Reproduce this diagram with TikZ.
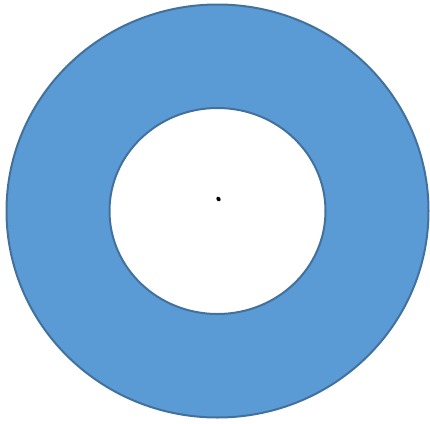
\documentclass[tikz,border=0pt]{standalone}
\usetikzlibrary{positioning,shapes.geometric}
\definecolor{ringFill}{RGB}{91,155,213}
\definecolor{ringEdge}{RGB}{65,113,156}
\begin{document}
\begin{tikzpicture}[
  x=1pt, y=-1pt,
  ring/.style={fill=ringFill, draw=ringEdge, line width=2pt, even odd rule},
  dot/.style={ellipse, fill=black, inner sep=0pt, minimum width=4pt, minimum height=5pt}
]
\useasboundingbox (0,0) rectangle (430,423);

\coordinate (centre) at (217.5,211);
\path[ring] (centre) ellipse [x radius=211, y radius=206.5]
            (centre) ellipse [x radius=108, y radius=103];

\node[dot, rotate=30] (mark) at (218.5,199) {};

\end{tikzpicture}
\end{document}
